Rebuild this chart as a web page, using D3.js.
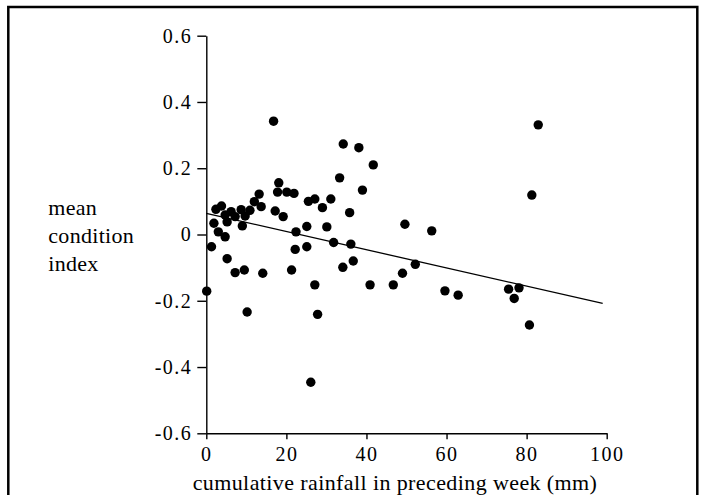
<!DOCTYPE html>
<html>
<head>
<meta charset="utf-8">
<script src="https://cdn.jsdelivr.net/npm/d3@7"></script>
<style>
  body { margin: 0; background: #fff; }
  svg text { font-family: "Liberation Serif", "Times New Roman", serif; fill: #000; }
</style>
</head>
<body>
<div id="chart"></div>
<script>
// rainfall (mm) and mean condition index
const rainfall = [16.8, 18.1, 17.8, 20.1, 21.9, 13.2, 12.0, 13.7, 17.2, 19.2,
  25.5, 3.8, 2.4, 6.2, 8.7, 10.9, 4.7, 7.2, 9.7, 1.9,
  5.2, 9.0, 3.0, 4.7, 1.3, 5.2, 7.2, 9.5, 14.1, 21.3,
  22.4, 22.2, 25.1, 25.1, 0.1, 10.2, 34.2, 38.1, 41.7, 33.3,
  39.0, 27.1, 31.1, 29.0, 35.8, 49.6, 56.3, 30.1, 31.8, 36.1,
  36.7, 34.1, 52.2, 49.0, 27.1, 40.9, 46.7, 59.6, 82.9, 81.3,
  62.9, 75.5, 78.1, 76.9, 80.7, 27.8, 26.1];
const condition = [0.342, 0.156, 0.128, 0.128, 0.124, 0.122, 0.099, 0.084, 0.071, 0.054,
  0.100, 0.086, 0.076, 0.069, 0.075, 0.073, 0.059, 0.054, 0.056, 0.034,
  0.038, 0.026, 0.008, -0.007, -0.037, -0.073, -0.115, -0.107, -0.117, -0.107,
  0.008, -0.045, 0.024, -0.037, -0.171, -0.234, 0.273, 0.262, 0.210, 0.171,
  0.134, 0.107, 0.107, 0.081, 0.066, 0.031, 0.011, 0.023, -0.024, -0.029,
  -0.080, -0.099, -0.090, -0.117, -0.152, -0.152, -0.152, -0.170, 0.331, 0.119,
  -0.183, -0.165, -0.161, -0.193, -0.273, -0.241, -0.446];

// fitted line end points
const fitX = [0, 99];
const fitY = [0.064, -0.208];

const xTicks = [0, 20, 40, 60, 80, 100];
const yTicks = [-0.6, -0.4, -0.2, 0, 0.2, 0.4, 0.6];
const yLabel = ["mean", "condition", "index"];
const xLabel = "cumulative rainfall in preceding week (mm)";

const width = 701, height = 495;

const svg = d3.select("#chart").append("svg")
  .attr("width", width)
  .attr("height", height);

// frame round the figure
svg.append("rect")
  .attr("x", 8.3).attr("y", 7)
  .attr("width", 689).attr("height", 520)
  .attr("fill", "none")
  .attr("stroke", "#000")
  .attr("stroke-width", 2.5);

const x = d3.scaleLinear().domain([0, 100]).range([206.3, 606.7]);
const y = d3.scaleLinear().domain([-0.6, 0.6]).range([433.3, 35.7]);

const fmt = d => d === 0 ? "0" : d3.format(".1f")(d).replace("−", "-");

let xAxis = svg.append("g")
  .attr("transform", "translate(0," + y(-0.6) + ")")
  .call(d3.axisBottom(x).tickValues(xTicks).tickSizeInner(6).tickSizeOuter(0).tickPadding(8)
    .tickFormat(d => d));

let yAxis = svg.append("g")
  .attr("transform", "translate(" + x(0) + ",0)")
  .call(d3.axisLeft(y).tickValues(yTicks).tickSizeInner(9).tickSizeOuter(0).tickPadding(5)
    .tickFormat(fmt));

[xAxis, yAxis].forEach(a => {
  a.select(".domain").attr("stroke-width", 1.4);
  a.selectAll(".tick line").attr("stroke-width", 1.4);
  a.selectAll("text")
    .style("font-family", "'Liberation Serif', serif")
    .style("font-size", "20px")
    .style("letter-spacing", "1.5px");
});

// regression line
svg.append("path")
  .datum(fitX.map((d, i) => [d, fitY[i]]))
  .attr("fill", "none")
  .attr("stroke", "#000")
  .attr("stroke-width", 1.3)
  .attr("d", d3.line().x(d => x(d[0])).y(d => y(d[1])));

// points
svg.append("g").selectAll("circle")
  .data(rainfall.map((d, i) => [d, condition[i]]))
  .join("circle")
  .attr("cx", d => x(d[0]))
  .attr("cy", d => y(d[1]))
  .attr("r", 4.7)
  .attr("fill", "#000");

// axis titles
svg.append("text")
  .attr("x", 395)
  .attr("y", 490)
  .attr("text-anchor", "middle")
  .style("font-size", "22px")
  .style("letter-spacing", "0.4px")
  .text(xLabel);

svg.append("g").selectAll("text")
  .data(yLabel)
  .join("text")
  .attr("x", 48.3)
  .attr("y", (d, i) => 215 + i * 28)
  .style("font-size", "22px")
  .style("letter-spacing", "0.3px")
  .text(d => d);
</script>
</body>
</html>
